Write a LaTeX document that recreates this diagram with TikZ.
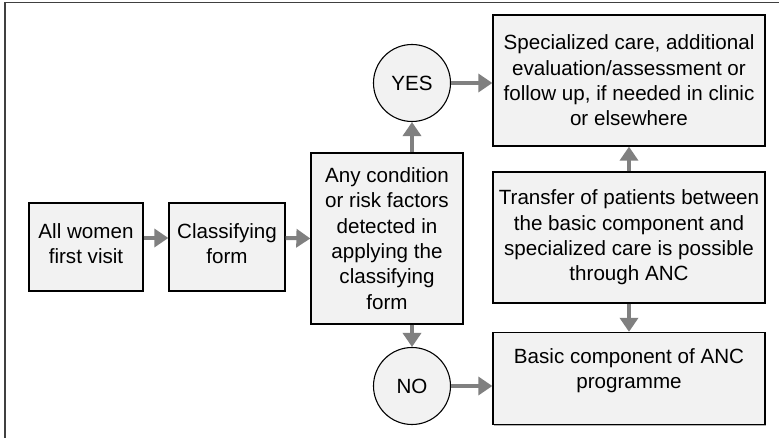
\documentclass[tikz,border=0pt]{standalone}
\usepackage{fontspec}
\setmainfont{Liberation Sans}
\usetikzlibrary{arrows.meta,shadows}
\definecolor{boxfill}{HTML}{F2F2F2}
\definecolor{arrowgray}{HTML}{808080}
\definecolor{framegray}{HTML}{404040}
\tikzset{
  boxtext/.style={align=center, inner sep=0pt, font=\fontsize{20.6}{25.3}\selectfont},
  box/.style={boxtext, draw=black, line width=1.3pt, fill=boxfill, inner sep=2pt,
    drop shadow={shadow xshift=1.2pt, shadow yshift=-1.2pt, fill=black!30, opacity=1}},
  decision/.style={circle, draw=black, line width=1.1pt, fill=boxfill, inner sep=0pt,
    minimum size=77pt, font=\fontsize{20.6}{25.3}\selectfont},
  arr/.style={draw=arrowgray, line width=4pt,
    -{Triangle[length=14pt,width=18pt]}},
  frameline/.style={draw=framegray, line width=1.4pt}
}
\begin{document}
\begin{tikzpicture}[x=1pt,y=-1pt]
\useasboundingbox (0,0) rectangle (779,438);
\draw[frameline] (5,438) -- (5,2.5) -- (779,2.5);

% process boxes
\node[box, minimum width=114, minimum height=88] (women) at (86,247) {};
\node[boxtext] (women-t) at ([yshift=3.5pt]women.center) {All women\\first visit};
\node[box, minimum width=116, minimum height=88] (classify) at (227,247) {};
\node[boxtext] (classify-t) at ([yshift=3.5pt]classify.center) {Classifying\\form};
\node[box, minimum width=152, minimum height=171] (anyc) at (387,238.5)
  {Any condition\\or risk factors\\detected in\\applying the\\classifying\\form};
\node[box, minimum width=272, minimum height=131] (spec) at (629,80.5)
  {Specialized care, additional\\evaluation/assessment or\\follow up, if needed in clinic\\or elsewhere};
\node[box, minimum width=272, minimum height=131] (transfer) at (629,237.5)
  {Transfer of patients between\\the basic component and\\specialized care is possible\\through ANC};
\node[box, minimum width=272, minimum height=92] (basic) at (629,378.5) {};
\node[boxtext] (basic-t) at ([yshift=8pt]basic.center) {Basic component of ANC\\programme};

% decisions
\node[decision] (yes) at (412,83) {YES};
\node[decision] (no) at (412,386) {NO};

% connectors
\draw[arr] ([yshift=9pt]women.east) -- ([yshift=9pt]classify.west);
\draw[arr] ([yshift=9pt]classify.east) -- (anyc.west);
\draw[arr] (anyc.north -| yes) -- (yes.south);
\draw[arr] (anyc.south -| no) -- (no.north);
\draw[arr] (yes.east) -- (yes.east -| spec.west);
\draw[arr] (no.east) -- (no.east -| basic.west);
\draw[arr] (transfer.north) -- (spec.south);
\draw[arr] (transfer.south) -- (basic.north);
\end{tikzpicture}
\end{document}
